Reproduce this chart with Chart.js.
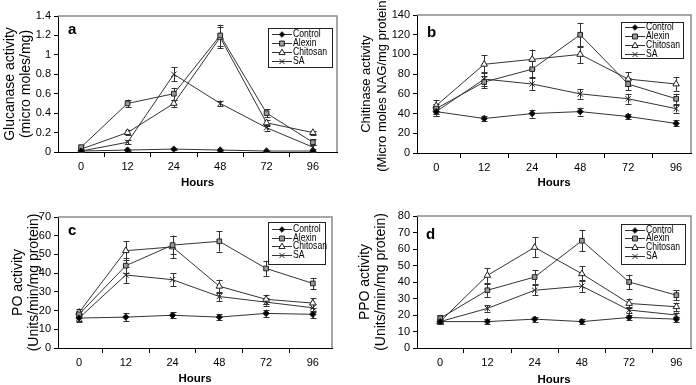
<!DOCTYPE html>
<html><head><meta charset="utf-8">
<script src="https://cdn.jsdelivr.net/npm/chart.js@4.4.0/dist/chart.umd.min.js"></script>
<style>
html,body{margin:0;padding:0;background:#fff;}
#wrap{position:relative;width:696px;height:385px;overflow:hidden;background:#fff}
canvas{position:absolute}
</style></head><body>
<div id="wrap">
<canvas id="pa" style="left:0;top:0" width="348" height="192"></canvas>
<canvas id="pb" style="left:348px;top:0" width="348" height="192"></canvas>
<canvas id="pc" style="left:0;top:192px" width="348" height="193"></canvas>
<canvas id="pd" style="left:348px;top:192px" width="348" height="193"></canvas>
</div>
<script>
// ---- categories and labels ----
const hours = ['0', '12', '24', '48', '72', '96'];
const seriesNames = ['Control', 'Alexin', 'Chitosan', 'SA'];

// ---- panel a: Glucanase ----
const glucTicks = [0, 0.2, 0.4, 0.6, 0.8, 1, 1.2, 1.4];
const glucControl = [0.01, 0.02, 0.03, 0.02, 0.01, 0.01];
const glucAlexin = [0.05, 0.5, 0.6, 1.2, 0.4, 0.1];
const glucChitosan = [0.03, 0.2, 0.5, 1.18, 0.3, 0.2];
const glucSA = [0.01, 0.1, 0.8, 0.5, 0.25, 0.05];
const glucControlErr = [0.005, 0.005, 0.01, 0.005, 0.005, 0.005];
const glucAlexinErr = [0.02, 0.04, 0.06, 0.11, 0.04, 0.03];
const glucChitosanErr = [0.02, 0.03, 0.04, 0.11, 0.03, 0.02];
const glucSAErr = [0.01, 0.02, 0.07, 0.03, 0.03, 0.02];

// ---- panel b: Chitinase ----
const chitTicks = [0, 20, 40, 60, 80, 100, 120, 140];
const chitControl = [42, 35, 40, 42, 37, 30];
const chitAlexin = [45, 72, 85, 120, 70, 55];
const chitChitosan = [48, 90, 95, 100, 75, 70];
const chitSA = [42, 75, 70, 60, 55, 45];
const chitControlErr = [4, 3, 4, 4, 3, 3];
const chitAlexinErr = [5, 6, 8, 12, 6, 5];
const chitChitosanErr = [6, 9, 10, 9, 7, 7];
const chitSAErr = [4, 7, 6, 5, 5, 4];

// ---- panel c: PO ----
const poTicks = [0, 10, 20, 30, 40, 50, 60, 70];
const poControl = [16, 16.5, 17.5, 16.5, 18.5, 18];
const poAlexin = [18, 44, 55, 57, 42.5, 34.5];
const poChitosan = [19, 52, 54, 33, 26, 24];
const poSA = [16, 39, 36.5, 27.5, 24.5, 21.5];
const poControlErr = [2, 2, 1.5, 1.5, 2, 2];
const poAlexinErr = [2, 4, 5, 5.5, 4, 3];
const poChitosanErr = [2, 5, 6, 3.5, 2.5, 2.5];
const poSAErr = [1.5, 4.5, 3.5, 2.5, 2, 2];

// ---- panel d: PPO ----
const ppoTicks = [0, 10, 20, 30, 40, 50, 60, 70, 80];
const ppoControl = [16, 16, 17.5, 16, 18.5, 17.5];
const ppoAlexin = [18, 35, 43, 65, 40, 32];
const ppoChitosan = [16, 44, 61, 45, 27, 25];
const ppoSA = [16, 24, 35, 37.5, 23, 20];
const ppoControlErr = [1.5, 1.5, 1.5, 1.5, 1.5, 1.5];
const ppoAlexinErr = [2, 4, 4, 6.5, 4.5, 3];
const ppoChitosanErr = [1.5, 4.5, 6, 4.5, 3, 2.5];
const ppoSAErr = [1, 2, 3, 3.5, 2, 1.5];

const SANS = "'Liberation Sans', Arial, sans-serif";
const xTickVals = [0, 0.5, 1, 1.5, 2, 2.5, 3, 3.5, 4, 4.5, 5];

const markerStyles = [
  {ps: 'rectRot', r: 3.2, bg: '#000'},
  {ps: 'rect', r: 3.3, bg: '#9a9a9a'},
  {ps: 'triangle', r: 3.8, bg: '#fff'},
  {ps: 'crossRot', r: 3.8, bg: '#fff'}
];

function drawMarker(ctx, k, x, y) {
  const s = markerStyles[k];
  const r = s.r - 0.4;
  ctx.save();
  ctx.strokeStyle = '#222';
  ctx.fillStyle = s.bg;
  ctx.lineWidth = 1;
  ctx.beginPath();
  if (s.ps === 'rectRot') {
    ctx.moveTo(x, y - r); ctx.lineTo(x + r, y); ctx.lineTo(x, y + r); ctx.lineTo(x - r, y); ctx.closePath();
    ctx.fill(); ctx.stroke();
  } else if (s.ps === 'rect') {
    ctx.rect(x - r * 0.85, y - r * 0.85, r * 1.7, r * 1.7); ctx.fill(); ctx.stroke();
  } else if (s.ps === 'triangle') {
    ctx.moveTo(x, y - r); ctx.lineTo(x + r * 0.9, y + r * 0.6); ctx.lineTo(x - r * 0.9, y + r * 0.6); ctx.closePath();
    ctx.fill(); ctx.stroke();
  } else {
    const d = r * 0.75;
    ctx.moveTo(x - d, y - d); ctx.lineTo(x + d, y + d); ctx.moveTo(x + d, y - d); ctx.lineTo(x - d, y + d); ctx.stroke();
  }
  ctx.restore();
}

const deco = {
  id: 'deco',
  beforeDatasetsDraw(chart) {
    const ctx = chart.ctx, ys = chart.scales.y;
    ctx.save();
    ctx.strokeStyle = '#333';
    ctx.lineWidth = 1;
    chart.data.datasets.forEach((ds, k) => {
      const meta = chart.getDatasetMeta(k);
      ds.errors.forEach((e, i) => {
        const pt = meta.data[i];
        const v = ds.data[i].y;
        const x = Math.round(pt.x) + 0.5;
        const y1 = ys.getPixelForValue(v + e), y2 = ys.getPixelForValue(Math.max(0, v - e));
        ctx.beginPath();
        ctx.moveTo(x, y1); ctx.lineTo(x, y2);
        ctx.moveTo(x - 3, Math.round(y1) + 0.5); ctx.lineTo(x + 3, Math.round(y1) + 0.5);
        ctx.moveTo(x - 3, Math.round(y2) + 0.5); ctx.lineTo(x + 3, Math.round(y2) + 0.5);
        ctx.stroke();
      });
    });
    ctx.restore();
  },
  afterDraw(chart, args, opts) {
    const ctx = chart.ctx, a = chart.chartArea;
    ctx.save();
    // plot frame (top & right)
    ctx.strokeStyle = '#8a8a8a';
    ctx.lineWidth = 1.5;
    ctx.beginPath();
    ctx.moveTo(a.left, a.top); ctx.lineTo(a.right, a.top); ctx.lineTo(a.right, a.bottom);
    ctx.stroke();
    // panel letter
    ctx.fillStyle = '#000';
    ctx.font = 'bold 15px ' + SANS;
    ctx.textBaseline = 'alphabetic';
    ctx.textAlign = 'left';
    ctx.fillText(opts.letter, a.left + opts.letterDx, a.top + opts.letterDy);
    // legend
    const L = opts.legend;
    ctx.fillStyle = '#fff';
    ctx.fillRect(L.x, L.y, L.w, L.h);
    ctx.strokeStyle = '#222';
    ctx.lineWidth = 1;
    ctx.strokeRect(L.x + 0.5, L.y + 0.5, L.w, L.h);
    ctx.font = '10.5px ' + SANS;
    ctx.textBaseline = 'middle';
    seriesNames.forEach((name, k) => {
      const yy = Math.round(L.y + L.row0 + k * L.gap) + 0.5;
      ctx.strokeStyle = '#333';
      ctx.beginPath();
      ctx.moveTo(L.x + 4, yy); ctx.lineTo(L.x + 24, yy);
      ctx.stroke();
      drawMarker(ctx, k, L.x + 14, yy);
      ctx.fillStyle = '#000';
      ctx.save();
      ctx.translate(L.x + 25, yy);
      ctx.scale(0.82, 1);
      ctx.fillText(name, 0, 0);
      ctx.restore();
    });
    ctx.restore();
  }
};

function makePanel(id, cfg) {
  const canvas = document.getElementById(id);
  const W = canvas.width, H = canvas.height;
  const datasets = cfg.series.map((vals, k) => ({
    label: seriesNames[k],
    data: vals.map((v, i) => ({x: i, y: v})),
    errors: cfg.errors[k],
    borderColor: '#333',
    borderWidth: 1,
    pointStyle: markerStyles[k].ps,
    pointRadius: markerStyles[k].r,
    pointBackgroundColor: markerStyles[k].bg,
    pointBorderColor: '#222',
    pointBorderWidth: 1,
    tension: 0,
    fill: false
  }));
  new Chart(canvas, {
    type: 'line',
    data: {datasets},
    options: {
      responsive: false,
      animation: false,
      devicePixelRatio: 1,
      events: [],
      layout: {padding: {left: 0, top: cfg.area.t, right: W - cfg.area.r, bottom: 0}},
      plugins: {
        legend: {display: false},
        tooltip: {enabled: false},
        deco: {letter: cfg.letter, letterDx: cfg.letterDx, letterDy: cfg.letterDy, legend: cfg.legend}
      },
      scales: {
        x: {
          type: 'linear',
          min: cfg.xmin, max: cfg.xmax,
          afterBuildTicks: ax => { ax.ticks = xTickVals.map(v => ({value: v})); },
          afterFit: s => { s.height = H - cfg.area.b; },
          ticks: {
            autoSkip: false, maxRotation: 0, padding: 3, color: '#000',
            font: {family: SANS, size: 11},
            callback: v => Number.isInteger(v) ? hours[v] : ''
          },
          grid: {
            drawOnChartArea: false, tickLength: 5,
            color: c => (c.tick && !Number.isInteger(c.tick.value)) ? '#000' : 'rgba(0,0,0,0)'
          },
          border: {color: '#000', width: 1},
          title: {
            display: true, text: 'Hours', color: '#000',
            font: {family: SANS, size: 11.5, weight: 'bold', lineHeight: 1.1},
            padding: {top: 0, bottom: cfg.hoursPad}
          }
        },
        y: {
          min: 0, max: cfg.ticks[cfg.ticks.length - 1],
          afterBuildTicks: ax => { ax.ticks = cfg.ticks.map(v => ({value: v})); },
          afterFit: s => { s.width = cfg.area.l; },
          ticks: {
            autoSkip: false, padding: 3, color: '#000',
            font: {family: SANS, size: 11},
            callback: v => String(v)
          },
          grid: {drawOnChartArea: false, tickLength: 4, color: '#000'},
          border: {color: '#000', width: 1},
          title: {
            display: true, text: cfg.ytitle, color: '#000',
            font: {family: SANS, size: cfg.ytitleSize, lineHeight: 16 / cfg.ytitleSize},
            padding: {top: cfg.ytitlePad, bottom: 0}
          }
        }
      }
    },
    plugins: [deco]
  });
}

makePanel('pa', {
  series: [glucControl, glucAlexin, glucChitosan, glucSA],
  errors: [glucControlErr, glucAlexinErr, glucChitosanErr, glucSAErr],
  ticks: glucTicks,
  ytitle: ['Glucanase activity', '(micro moles/mg)'],
  ytitleSize: 14,
  area: {l: 58, r: 337, t: 16, b: 152},
  xmin: -0.5, xmax: 5.52,
  hoursPad: 2.7, ytitlePad: 2,
  letter: 'a', letterDx: 10, letterDy: 18,
  legend: {x: 268, y: 28, w: 64, h: 39, row0: 5.5, gap: 9.2}
});
makePanel('pb', {
  series: [chitControl, chitAlexin, chitChitosan, chitSA],
  errors: [chitControlErr, chitAlexinErr, chitChitosanErr, chitSAErr],
  ticks: chitTicks,
  ytitle: ['Chitinase activity', '(Micro moles NAG/mg protein)'],
  ytitleSize: 13,
  area: {l: 69, r: 343, t: 15, b: 153},
  xmin: -0.40, xmax: 5.31,
  hoursPad: 2.7, ytitlePad: 10,
  letter: 'b', letterDx: 10, letterDy: 22,
  legend: {x: 273, y: 22, w: 62, h: 36, row0: 5, gap: 8.9}
});
makePanel('pc', {
  series: [poControl, poAlexin, poChitosan, poSA],
  errors: [poControlErr, poAlexinErr, poChitosanErr, poSAErr],
  ticks: poTicks,
  ytitle: ['PO activity', '(Units/min/mg protein)'],
  ytitleSize: 14,
  area: {l: 58, r: 332, t: 25, b: 156},
  xmin: -0.45, xmax: 5.41,
  hoursPad: -0.3, ytitlePad: 10,
  letter: 'c', letterDx: 10, letterDy: 18,
  legend: {x: 268, y: 30, w: 57, h: 42, row0: 7, gap: 8.7}
});
makePanel('pd', {
  series: [ppoControl, ppoAlexin, ppoChitosan, ppoSA],
  errors: [ppoControlErr, ppoAlexinErr, ppoChitosanErr, ppoSAErr],
  ticks: ppoTicks,
  ytitle: ['PPO activity', '(Units/min/mg protein)'],
  ytitleSize: 14,
  area: {l: 69, r: 343, t: 24, b: 156},
  xmin: -0.49, xmax: 5.31,
  hoursPad: -1.3, ytitlePad: 9,
  letter: 'd', letterDx: 9, letterDy: 23,
  legend: {x: 273, y: 32, w: 64, h: 40, row0: 5.5, gap: 8.7}
});
</script>
</body></html>
